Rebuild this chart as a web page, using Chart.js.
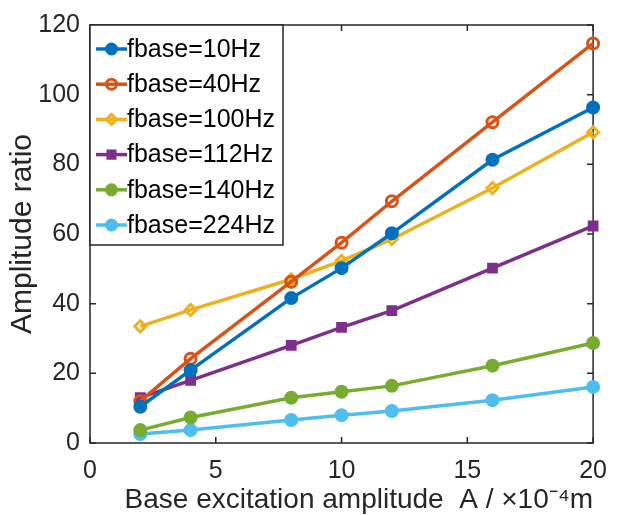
<!DOCTYPE html>
<html>
<head>
<meta charset="utf-8">
<script src="https://cdn.jsdelivr.net/npm/chart.js@4.4.0/dist/chart.umd.min.js"></script>
<style>
  html, body { margin: 0; padding: 0; background: #fff; }
</style>
</head>
<body>
<canvas id="graphAmplitude" width="620" height="515"></canvas>
<script>
// ===== DONNÉES =====
var amplitudes = [2, 4, 8, 10, 12, 16, 20];
var f10  = [10.4, 20.9, 41.6, 50.2, 60.2, 81.3, 96.3];
var f40  = [12.0, 24.2, 46.3, 57.5, 69.4, 92.1, 114.7];
var f100 = [33.5, 38.2, 47.0, 52.3, 58.5, 73.2, 89.2];
var f112 = [13.0, 18.0, 28.0, 33.2, 38.0, 50.2, 62.3];
var f140 = [3.7, 7.3, 13.0, 14.7, 16.4, 22.2, 28.7];
var f224 = [2.6, 3.7, 6.6, 8.0, 9.2, 12.3, 16.1];
var seriesLabels = ['fbase=10Hz', 'fbase=40Hz', 'fbase=100Hz', 'fbase=112Hz', 'fbase=140Hz', 'fbase=224Hz'];
var xTicks = [0, 5, 10, 15, 20];
var yTicks = [0, 20, 40, 60, 80, 100, 120];

var FONT = '"Liberation Sans", Arial, sans-serif';
var AXIS = '#262626';

// On associe chaque abscisse à sa valeur
function toPoints(vals) {
    return amplitudes.map(function (a, i) { return { x: a, y: vals[i] }; });
}

function serie(label, vals, color, style, filled) {
    return {
        label: label,
        data: toPoints(vals),
        borderColor: color,
        backgroundColor: filled ? color : '#ffffff',
        pointBackgroundColor: filled ? color : 'rgba(255,255,255,0)',
        pointBorderColor: color,
        pointStyle: style,
        pointRadius: 5.5,
        pointBorderWidth: 3,
        borderWidth: 3.5,
        tension: 0,
        clip: false
    };
}

// ---- Cadre et graduations vers l'intérieur (style MATLAB) ----
var cadre = {
    id: 'cadre',
    beforeDatasetsDraw: function (chart) {
        var ctx = chart.ctx, a = chart.chartArea;
        var sx = chart.scales.x, sy = chart.scales.y;
        var len = 6;
        ctx.save();
        ctx.strokeStyle = AXIS;
        ctx.lineWidth = 1.5;
        ctx.strokeRect(a.left, a.top, a.right - a.left, a.bottom - a.top);
        ctx.beginPath();
        xTicks.forEach(function (v) {
            var px = sx.getPixelForValue(v);
            ctx.moveTo(px, a.bottom); ctx.lineTo(px, a.bottom - len);
            ctx.moveTo(px, a.top);    ctx.lineTo(px, a.top + len);
        });
        yTicks.forEach(function (v) {
            var py = sy.getPixelForValue(v);
            ctx.moveTo(a.left, py);  ctx.lineTo(a.left + len, py);
            ctx.moveTo(a.right, py); ctx.lineTo(a.right - len, py);
        });
        ctx.stroke();
        ctx.restore();
    }
};

// ---- Légende encadrée en haut à gauche ----
var legende = {
    id: 'legende',
    afterDatasetsDraw: function (chart) {
        var ctx = chart.ctx, a = chart.chartArea;
        var x0 = a.left, y0 = a.top, w = 193, h = 220;
        var rowH = 35.2, firstRow = 24;
        ctx.save();
        ctx.fillStyle = '#ffffff';
        ctx.fillRect(x0, y0, w, h);
        ctx.strokeStyle = AXIS;
        ctx.lineWidth = 1.5;
        ctx.strokeRect(x0, y0, w, h);
        ctx.font = '25px ' + FONT;
        ctx.textBaseline = 'middle';
        chart.data.datasets.forEach(function (ds, i) {
            var y = y0 + firstRow + i * rowH;
            ctx.strokeStyle = ds.borderColor;
            ctx.lineWidth = ds.borderWidth;
            ctx.beginPath();
            ctx.moveTo(x0 + 6, y);
            ctx.lineTo(x0 + 37, y);
            ctx.stroke();
            // drawPoint remplit et trace lui-même avec le style courant
            ctx.fillStyle = ds.pointBackgroundColor;
            ctx.strokeStyle = ds.pointBorderColor;
            ctx.lineWidth = ds.pointBorderWidth;
            Chart.helpers.drawPoint(ctx, {
                pointStyle: ds.pointStyle,
                radius: 5,
                rotation: 0,
                borderWidth: ds.pointBorderWidth
            }, x0 + 21.5, y);
            ctx.fillStyle = '#000000';
            ctx.fillText(ds.label, x0 + 37, y + 1);
        });
        ctx.restore();
    }
};

document.addEventListener('DOMContentLoaded', function () {
    new Chart(document.getElementById('graphAmplitude'), {
        type: 'line',
        data: {
            datasets: [
                serie(seriesLabels[0], f10,  '#0072BD', 'circle', true),
                serie(seriesLabels[1], f40,  '#D95319', 'circle', false),
                serie(seriesLabels[2], f100, '#EDB120', 'rectRot', false),
                serie(seriesLabels[3], f112, '#7E2F8E', 'rect', true),
                serie(seriesLabels[4], f140, '#77AC30', 'circle', true),
                serie(seriesLabels[5], f224, '#4DBEEE', 'circle', true)
            ]
        },
        options: {
            responsive: false,
            animation: false,
            layout: { padding: { top: 23, right: 15, left: 0, bottom: 0 } },
            plugins: {
                legend: { display: false },
                tooltip: { enabled: false }
            },
            scales: {
                x: {
                    type: 'linear',
                    min: 0, max: 20,
                    afterBuildTicks: function (s) { s.ticks = xTicks.map(function (v) { return { value: v }; }); },
                    afterFit: function (s) { s.height = 72; },
                    grid: { display: false, drawTicks: false },
                    border: { display: false },
                    ticks: { font: { family: FONT, size: 25 }, color: AXIS, padding: 13, maxRotation: 0 },
                    title: {
                        display: true,
                        align: 'end',
                        text: 'Base excitation amplitude  A / ×10⁻⁴m',
                        font: { family: FONT, size: 28 }, color: AXIS, padding: { top: 0, bottom: -2 }
                    }
                },
                y: {
                    min: 0, max: 120,
                    afterBuildTicks: function (s) { s.ticks = yTicks.map(function (v) { return { value: v }; }); },
                    afterFit: function (s) { s.width = 90; },
                    grid: { display: false, drawTicks: false },
                    border: { display: false },
                    ticks: { font: { family: FONT, size: 25 }, color: AXIS, padding: 10 },
                    title: {
                        display: true,
                        text: 'Amplitude ratio',
                        font: { family: FONT, size: 30 }, color: AXIS, padding: { top: 5, bottom: 0 }
                    }
                }
            }
        },
        plugins: [cadre, legende]
    });
});
</script>
</body>
</html>
